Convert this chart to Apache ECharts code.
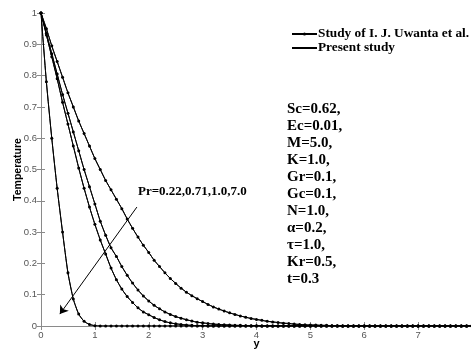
<!DOCTYPE html>
<html><head><meta charset="utf-8">
<script src="https://cdn.jsdelivr.net/npm/echarts@6/dist/echarts.min.js"></script>
<style>html,body{margin:0;padding:0;background:#fff}#c{width:471px;height:349px}</style>
</head><body><div id="c"></div>
<script>
// y positions (x-axis values)
const xs = [0,0.1,0.2,0.3,0.4,0.5,0.6,0.7,0.8,0.9,
  1,1.1,1.2,1.3,1.4,1.5,1.6,1.7,1.8,1.9,
  2,2.1,2.2,2.3,2.4,2.5,2.6,2.7,2.8,2.9,
  3,3.1,3.2,3.3,3.4,3.5,3.6,3.7,3.8,3.9,
  4,4.1,4.2,4.3,4.4,4.5,4.6,4.7,4.8,4.9,
  5,5.1,5.2,5.3,5.4,5.5,5.6,5.7,5.8,5.9,
  6,6.1,6.2,6.3,6.4,6.5,6.6,6.7,6.8,6.9,
  7,7.1,7.2,7.3,7.4,7.5,7.6,7.7,7.8,7.9,8];

const prLabels = ['0.22','0.71','1.0','7.0'];
const tempPr022 = [1,0.95,0.895,0.845,0.795,0.745,0.70,0.655,0.615,0.575,
  0.535,0.5,0.465,0.435,0.405,0.375,0.342,0.312,0.284,0.258,
  0.235,0.21,0.19,0.17,0.152,0.136,0.121,0.108,0.097,0.087,
  0.078,0.069,0.061,0.054,0.048,0.042,0.037,0.032,0.028,0.024,
  0.021,0.018,0.015,0.013,0.011,0.009,0.008,0.006,0.005,0.004,
  0.003,0.003,0.002,0.002,0.001,0.001,0,0,0,0,
  0,0,0,0,0,0,0,0,0,0,
  0,0,0,0,0,0,0,0,0,0,0];
const tempPr071 = [1,0.935,0.87,0.805,0.74,0.68,0.62,0.56,0.50,0.445,
  0.39,0.335,0.29,0.25,0.222,0.19,0.162,0.137,0.115,0.096,
  0.08,0.066,0.055,0.045,0.037,0.03,0.025,0.02,0.016,0.012,
  0.01,0.008,0.006,0.005,0.004,0.003,0.002,0.002,0.001,0.001,
  0.001,0,0,0,0,0,0,0,0,0,
  0,0,0,0,0,0,0,0,0,0,
  0,0,0,0,0,0,0,0,0,0,
  0,0,0,0,0,0,0,0,0,0,0];
const tempPr10 = [1,0.93,0.86,0.79,0.715,0.645,0.575,0.505,0.44,0.38,
  0.325,0.275,0.23,0.185,0.148,0.118,0.094,0.075,0.058,0.045,
  0.036,0.027,0.02,0.014,0.01,0.007,0.005,0.003,0.002,0.001,
  0.001,0,0,0,0,0,0,0,0,0,
  0,0,0,0,0,0,0,0,0,0,
  0,0,0,0,0,0,0,0,0,0,
  0,0,0,0,0,0,0,0,0,0,
  0,0,0,0,0,0,0,0,0,0,0];
const tempPr70 = [1,0.78,0.6,0.44,0.3,0.17,0.086,0.038,0.015,0.005,
  0.001,0,0,0,0,0,0,0,0,0,
  0,0,0,0,0,0,0,0,0,0,
  0,0,0,0,0,0,0,0,0,0,
  0,0,0,0,0,0,0,0,0,0,
  0,0,0,0,0,0,0,0,0,0,
  0,0,0,0,0,0,0,0,0,0,
  0,0,0,0,0,0,0,0,0,0,0];

const xTicks = [0,1,2,3,4,5,6,7];
const yTicks = [0,0.1,0.2,0.3,0.4,0.5,0.6,0.7,0.8,0.9,1];
const arrowFrom = [1.78, 0.38];
const arrowTo = [0.35, 0.038];
const paramText = ['Sc=0.62,','Ec=0.01,','M=5.0,','K=1.0,','Gr=0.1,','Gc=0.1,','N=1.0,','\u03b1=0.2,','\u03c4=1.0,','Kr=0.5,','t=0.3'];
const studyName = 'Study of I. J. Uwanta et al.';
const presentName = 'Present study';

const curves = [tempPr022, tempPr071, tempPr10, tempPr70];
const pairs = ys => ys.map((v,i)=>[xs[i], v]);

const series = [];
curves.forEach((ys, k) => {
  series.push({
    name: studyName, type: 'line', data: pairs(ys),
    symbol: 'circle', symbolSize: 3, showSymbol: true,
    lineStyle: {color:'#000', width: 1}, itemStyle: {color:'#000'},
    smooth: 0.2, z: 3
  });
});
curves.forEach((ys, k) => {
  const s = {
    name: presentName, type: 'line', data: pairs(ys),
    symbol: 'none', showSymbol: false,
    lineStyle: {color:'#000', width: 1}, itemStyle: {color:'#000'},
    smooth: 0.2, z: 2
  };
  if (k === 0) {
    s.markLine = {
      silent: true, animation: false,
      symbol: ['none','arrow'], symbolSize: 8,
      lineStyle: {color:'#000', width: 1, type:'solid'},
      label: {show:false},
      data: [[{coord: arrowFrom}, {coord: arrowTo}]]
    };
  }
  series.push(s);
});

const axisGray = '#8a8a8a';
const labelFont = {color:'#555', fontFamily:'Liberation Sans', fontSize: 9.5};
const chart = echarts.init(document.getElementById('c'), null, {renderer:'canvas'});
chart.setOption({
  animation: false,
  backgroundColor: '#fff',
  grid: {left: 41, top: 13, width: 431, height: 313, containLabel: false, outerBoundsMode: 'none'},
  legend: {
    orient: 'vertical', left: 286, top: 22, itemGap: 0,
    itemWidth: 25, itemHeight: 4,
    data: [studyName, {name: presentName, itemStyle: {opacity: 0}}],
    textStyle: {fontFamily:'Liberation Serif', fontWeight:'bold', fontSize: 13.3, color:'#000', lineHeight: 14, padding:[0,0,0,-4]}
  },
  xAxis: [{
    type: 'value', min: 0, max: 8, interval: 1,
    name: 'y', nameLocation: 'middle', nameGap: 12, nameMoveOverlap: false,
    nameTextStyle: {fontFamily:'Liberation Sans', fontWeight:'bold', fontSize: 11, color:'#000'},
    axisLine: {lineStyle:{color: axisGray}},
    axisTick: {inside: true, length: 4, lineStyle:{color: axisGray}},
    axisLabel: Object.assign({margin: 4, showMaxLabel: false, formatter: v => xTicks.includes(v) ? String(v) : ''}, labelFont),
    splitLine: {show:false}
  },{
    type: 'value', position: 'top', min: 0, max: 8, interval: 1,
    axisLine: {show: true, lineStyle:{color: axisGray}},
    axisTick: {inside: true, length: 4, lineStyle:{color: axisGray}},
    axisLabel: {show:false}, splitLine: {show:false}
  }],
  yAxis: [{
    type: 'value', min: 0, max: 1, interval: 0.1,
    name: 'Temperature', nameLocation: 'middle', nameGap: 17, nameMoveOverlap: false,
    nameTextStyle: {fontFamily:'Liberation Sans', fontWeight:'bold', fontSize: 10.5, color:'#000'},
    axisLine: {show:true, lineStyle:{color: axisGray}},
    axisTick: {show:true, inside: true, length: 4, lineStyle:{color: axisGray}},
    axisLabel: Object.assign({margin: 4, formatter: v => {
      const t = yTicks.find(q => Math.abs(q - v) < 1e-6);
      return t === undefined ? '' : String(t);
    }}, labelFont),
    splitLine: {show:false}
  },{
    type: 'value', position: 'right', min: 0, max: 1, interval: 0.1,
    axisLine: {show:true, lineStyle:{color: axisGray}},
    axisTick: {show:true, inside: true, length: 4, lineStyle:{color: axisGray}},
    axisLabel: {show:false}, splitLine: {show:false}
  }],
  graphic: [{
    type: 'text', left: 138, top: 185,
    style: {text: 'Pr=' + prLabels.join(','), fill:'#000', font: 'bold 13px "Liberation Serif"'}
  },{
    type: 'text', left: 287, top: 101,
    style: {text: paramText.join('\n'), fill:'#000', font: 'bold 15px "Liberation Serif"', lineHeight: 17}
  }],
  series: series
});
</script></body></html>
